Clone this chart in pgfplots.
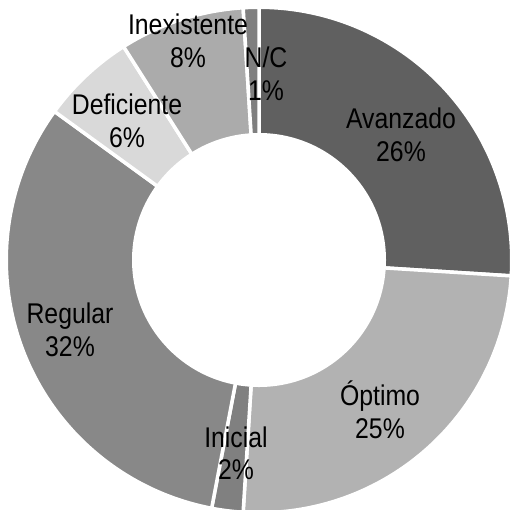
\documentclass[border=0pt]{standalone}
\usepackage{pgfplots}
\pgfplotsset{compat=1.18}
\usepackage{fontspec}
\setmainfont{Liberation Sans}[FakeStretch=0.87]
\definecolor{cA}{HTML}{606060}
\definecolor{cB}{HTML}{B2B2B2}
\definecolor{cC}{HTML}{808080}
\definecolor{cD}{HTML}{888888}
\definecolor{cE}{HTML}{D9D9D9}
\definecolor{cF}{HTML}{ABABAB}
\definecolor{cG}{HTML}{7F7F7F}
\begin{document}
\begin{tikzpicture}
\begin{axis}[width=510pt, height=509pt, scale only axis,
  xmin=0, xmax=510, ymin=0, ymax=509, y dir=reverse,
  hide axis, clip=true]
\xdef\cum{0}
\foreach \v/\col in {26/cA,25/cB,2/cC,32/cD,6/cE,8/cF,1/cG}{
  \pgfmathsetmacro\a{\cum*3.6}
  \pgfmathsetmacro\b{(\cum+\v)*3.6}
  \edef\temp{\noexpand\addplot[fill=\col, draw=white, line width=3.5pt, line join=miter, domain=\a:\b, samples=90, variable=\noexpand\t] ({259+252.75*sin(\noexpand\t)},{260-252.75*cos(\noexpand\t)}) -- (axis cs:259,260) -- cycle;}
  \temp
  \pgfmathparse{\cum+\v}
  \xdef\cum{\pgfmathresult}
}
\fill[white] (axis cs:259,260) circle[radius=127];
\tikzset{lab/.style={align=center, inner sep=0pt, font=\fontsize{28.5}{32.5}\selectfont}}
\node[lab] at (axis cs:401,135) {Avanzado\\26\%};
\node[lab] at (axis cs:380,410) {Óptimo\\25\%};
\node[lab] at (axis cs:236,453) {Inicial\\2\%};
\node[lab] at (axis cs:70,330) {Regular\\32\%};
\node[lab] at (axis cs:127,121) {Deficiente\\6\%};
\node[lab] at (axis cs:188,41) {Inexistente\\8\%};
\node[lab] at (axis cs:266,74) {N/C\\1\%};
\end{axis}
\pgfresetboundingbox
\path[use as bounding box] (current axis.south west) rectangle (current axis.north east);
\end{tikzpicture}
\end{document}
